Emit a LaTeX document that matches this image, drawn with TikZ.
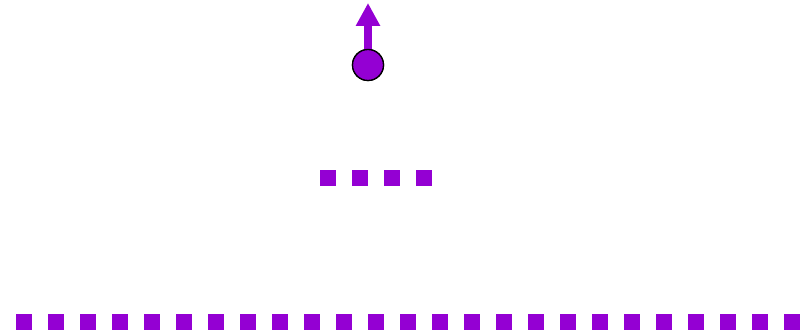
\documentclass[tikz,border=0pt]{standalone}
\usetikzlibrary{arrows.meta}
\definecolor{vio}{HTML}{9400D3}
\begin{document}
\begin{tikzpicture}[x=1pt,y=1pt,
  sqline/.style={vio, line width=16pt, line cap=butt, dash pattern=on 16pt off 16pt},
  ball/.style={circle, fill=vio, draw=black, line width=1.3pt, minimum size=31pt, inner sep=0pt},
  upvec/.style={vio, line width=8pt, -{Triangle[length=23pt,width=23pt]}}]
\useasboundingbox (0,0) rectangle (803,334);
\coordinate (m1) at (320,156);
\coordinate (m2) at (432,156);
\coordinate (b1) at (16,12);
\coordinate (b2) at (800,12);
\draw[sqline] (m1) -- (m2);
\draw[sqline] (b1) -- (b2);
\node[ball] (c) at (368,269) {};
\coordinate (tip) at (368,331);
\draw[upvec] (c.center) ++(0,14) -- (tip);
\node[ball] at (c) {};
\end{tikzpicture}
\end{document}
